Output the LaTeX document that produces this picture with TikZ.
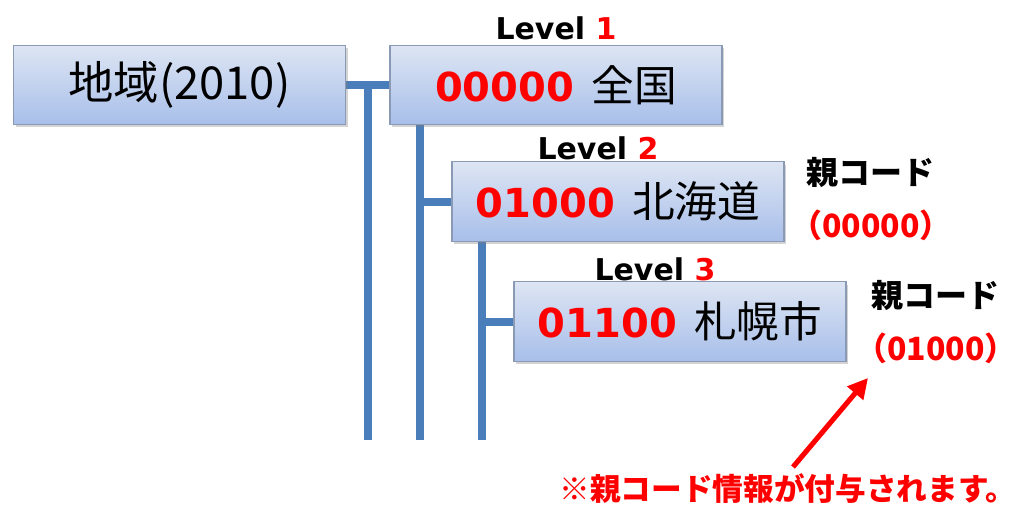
\documentclass[tikz,border=0pt]{standalone}
\usepackage{fontspec}
\usetikzlibrary{arrows.meta,shadows,backgrounds}
\newfontfamily\cjk{Noto Sans CJK JP}
\newfontfamily\dvs{DejaVu Sans}
\definecolor{boxtop}{HTML}{DDE5F3}
\definecolor{boxbot}{HTML}{A8BFEA}
\definecolor{boxedge}{HTML}{8A9AB4}
\definecolor{treeblue}{HTML}{4A7EBB}
\definecolor{codered}{HTML}{FF0000}
\newcommand{\codetxt}[2]{{\dvs\bfseries\fontsize{30}{34}\selectfont\color{codered}#1}\hspace{13pt}{\cjk\fontsize{32}{36}\selectfont #2}}
\tikzset{
  box/.style={draw=boxedge, line width=0.8pt, top color=boxtop, bottom color=boxbot,
    minimum width=249pt, minimum height=59.5pt, inner sep=0pt,
    drop shadow={shadow xshift=1.5pt, shadow yshift=-2pt, opacity=0.35}},
  tree/.style={draw=treeblue, line width=6pt},
  lvl/.style={font=\dvs\bfseries\fontsize{22.5}{26}\selectfont, inner sep=0pt},
  oya/.style={font=\cjk\bfseries\fontsize{24}{28}\selectfont, inner sep=0pt},
}
\begin{document}
\begin{tikzpicture}[x=0.75pt,y=-0.75pt]
\useasboundingbox (0,0) rectangle (1020,508);
% boxes
\node[box] (b0) at (179.5,85) {{\cjk\fontsize{34}{38}\selectfont 地域(2010)}};
\node[box] (b1) at (556,85) {\codetxt{00000}{全国}};
\node[box] (b2) at (618,201.5) {\codetxt{01000}{北海道}};
\node[box] (b3) at (680,321.5) {\codetxt{01100}{札幌市}};
% tree lines
\coordinate (v1) at (368,440);
\coordinate (v2) at (420,440);
\coordinate (v3) at (482,440);
\begin{scope}[on background layer]
\draw[tree] (b0.east) -- (b1.west);
\draw[tree] (v1 |- b0.east) -- (v1);
\draw[tree] (v2 |- b1.south) -- (v2);
\draw[tree] (v2 |- b2.west) -- (b2.west);
\draw[tree] (v3 |- b2.south) -- (v3);
\draw[tree] (v3 |- b3.west) -- (b3.west);
\end{scope}
% level labels
\node[lvl] (l1) at (556,28) {Level\ \textcolor{codered}{1}};
\node[lvl] (l2) at (598,148) {Level\ \textcolor{codered}{2}};
\node[lvl] (l3) at (655,269) {Level\ \textcolor{codered}{3}};
% parent code labels
\node[oya] (o2) at (870,172) {親コード};
\node[oya, text=codered] (p2) at (871,225) {（00000）};
\node[oya] (o3) at (935,295) {親コード};
\node[oya, text=codered] (p3) at (936,348) {（01000）};
% note
\node[oya, text=codered, font=\cjk\bfseries\fontsize{23}{28}\selectfont] (note) at (788,489) {※親コード情報が付与されます。};
\coordinate (atail) at (793,467);
\coordinate (ahead) at (868,378);
\draw[codered, line width=3.8pt, -{Triangle[length=15pt,width=15pt]}] (atail) -- (ahead);
\end{tikzpicture}
\end{document}
